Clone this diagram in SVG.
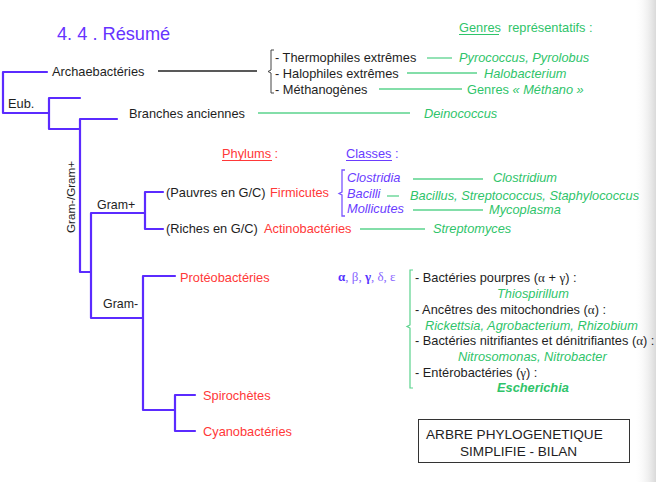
<svg xmlns="http://www.w3.org/2000/svg" width="656" height="482" viewBox="0 0 656 482">
<defs>
<linearGradient id="edge" x1="0" y1="0" x2="1" y2="0">
<stop offset="0" stop-color="#ffffff" stop-opacity="0"/>
<stop offset="1" stop-color="#d9d9d9"/>
</linearGradient>
</defs>
<style>
text{font-family:"Liberation Sans",Arial,sans-serif;font-size:12.8px;fill:#1e1e1e}
.tree{fill:none;stroke:#5b2bff;stroke-width:2.2;stroke-linejoin:round;stroke-linecap:round}
.gl{stroke:#5ad38d;stroke-width:1.3}
.bl{stroke:#222;stroke-width:1.3}
.g{fill:#2fc46a}
.gi{fill:#2fc46a;font-style:italic}
.r{fill:#ff3838}
.p{fill:#6a3cff}
.pi{fill:#6a3cff;font-style:italic}
.gk{font-family:"Liberation Serif","DejaVu Serif",serif;font-size:13px}
</style>
<rect x="0" y="0" width="656" height="482" fill="#ffffff"/>
<rect x="634" y="0" width="22" height="482" fill="url(#edge)"/>

<text x="57" y="40" style="font-size:18.2px;fill:#6633ff">4. 4 . Résumé</text>

<g id="connectors">
<path class="tree" d="M47,72 H3 V113 H49"/>
<path class="tree" d="M80,98 H49 V129 H80"/>
<path class="tree" d="M117,119 H80 V272 H91"/>
<path class="tree" d="M145,213 H91 V318 H143"/>
<path class="tree" d="M163,192 H145 V229 H163"/>
<path class="tree" d="M175,276 H143 V410 H175"/>
<path class="tree" d="M195,395 H175 V431 H195"/>
<line class="bl" x1="158" y1="71" x2="257" y2="71"/>
<path fill="none" stroke="#444" stroke-width="1" d="M274,50 H271 V70 L268,71.5 L271,73 V93 H274"/>
<line class="gl" x1="427" y1="58" x2="452" y2="58"/>
<line class="gl" x1="407" y1="73" x2="477" y2="73"/>
<line class="gl" x1="379" y1="89" x2="462" y2="89"/>
<line class="gl" x1="258" y1="113" x2="410" y2="113"/>
<path fill="none" stroke="#7a55ff" stroke-width="1.3" d="M345,170 H342 V192 L339,193.5 L342,195 V216 H345"/>
<line class="gl" x1="413" y1="179" x2="483" y2="179"/>
<line class="gl" x1="387" y1="196" x2="399" y2="196"/>
<line class="gl" x1="413" y1="210" x2="483" y2="210"/>
<line class="gl" x1="360" y1="229" x2="425" y2="229"/>
<path fill="none" stroke="#5ad38d" stroke-width="1.2" d="M413,270 H410 V325 L407,326.5 L410,328 V388 H413"/>
</g>

<g id="n-archae">
<text x="52" y="76">Archaebactéries</text>
</g>
<g id="n-eub">
<text x="8" y="108">Eub.</text>
</g>
<g id="n-branches">
<text x="129" y="118">Branches anciennes</text>
<text x="424" y="118" class="gi">Deinococcus</text>
</g>
<g id="n-gram">
<text transform="translate(75,197) rotate(-90)" text-anchor="middle" style="font-size:11.6px">Gram-/Gram+</text>
</g>
<g id="n-gramplus">
<text x="97" y="209" style="font-size:12.4px">Gram+</text>
</g>
<g id="n-gramminus">
<text x="103" y="308" style="font-size:12.4px">Gram-</text>
</g>

<g id="n-genres">
<text x="459" y="32" class="g">Genres<tspan dx="7">représentatifs :</tspan></text>
<line x1="459" y1="34.5" x2="499" y2="34.5" stroke="#2fc46a" stroke-width="1"/>
</g>
<g id="n-archae-list">
<text x="275" y="62">- Thermophiles extrêmes</text>
<text x="275" y="78">- Halophiles extrêmes</text>
<text x="275" y="94">- Méthanogènes</text>
<text x="459" y="62" class="gi">Pyrococcus, Pyrolobus</text>
<text x="484" y="78" class="gi">Halobacterium</text>
<text x="467" y="94" class="g">Genres <tspan font-style="italic">« Méthano »</tspan></text>
</g>

<g id="n-headers">
<text x="222" y="158" class="r">Phylums :</text>
<line x1="222" y1="160.5" x2="272" y2="160.5" stroke="#ff3838" stroke-width="1"/>
<text x="346" y="158" class="p">Classes :</text>
<line x1="346" y1="160.5" x2="392" y2="160.5" stroke="#6a3cff" stroke-width="1"/>
</g>

<g id="n-firmicutes">
<text x="166" y="197">(Pauvres en G/C)</text>
<text x="270" y="197" class="r">Firmicutes</text>
<text x="347" y="182" class="pi">Clostridia</text>
<text x="347" y="198" class="pi">Bacilli</text>
<text x="347" y="213" class="pi">Mollicutes</text>
<text x="493" y="182" class="gi">Clostridium</text>
<text x="410" y="200" class="gi">Bacillus, Streptococcus, Staphylococcus</text>
<text x="489" y="214" class="gi">Mycoplasma</text>
</g>
<g id="n-actino">
<text x="166" y="233">(Riches en G/C)</text>
<text x="264" y="233" class="r">Actinobactéries</text>
<text x="433" y="233" class="gi">Streptomyces</text>
</g>

<g id="n-proteo">
<text x="180" y="282" class="r">Protéobactéries</text>
<text x="338" y="281" class="gk"><tspan fill="#5533ff" font-weight="bold">α</tspan><tspan fill="#8866ff">, β, </tspan><tspan fill="#5533ff" font-weight="bold">γ</tspan><tspan fill="#8866ff">, δ, ε</tspan></text>
<text x="415" y="282">- Bactéries pourpres (<tspan class="gk">α</tspan> + <tspan class="gk">γ</tspan>) :</text>
<text x="497" y="298" class="gi">Thiospirillum</text>
<text x="415" y="314">- Ancêtres des mitochondries (<tspan class="gk">α</tspan>) :</text>
<text x="425" y="330" class="gi">Rickettsia, Agrobacterium, Rhizobium</text>
<text x="415" y="345">- Bactéries nitrifiantes et dénitrifiantes (<tspan class="gk">α</tspan>) :</text>
<text x="458" y="361" class="gi">Nitrosomonas, Nitrobacter</text>
<text x="415" y="377">- Entérobactéries (<tspan class="gk">γ</tspan>) :</text>
<text x="497" y="392" class="gi" font-weight="bold">Escherichia</text>
</g>
<g id="n-spiro">
<text x="203" y="400" class="r">Spirochètes</text>
</g>
<g id="n-cyano">
<text x="203" y="436" class="r">Cyanobactéries</text>
</g>

<g id="n-title-box">
<rect x="418.5" y="419.5" width="211" height="43" fill="#fff" stroke="#333" stroke-width="1"/>
<text x="426" y="439" style="font-size:13.6px">ARBRE PHYLOGENETIQUE</text>
<text x="460" y="456" style="font-size:13.6px">SIMPLIFIE - BILAN</text>
</g>
</svg>
